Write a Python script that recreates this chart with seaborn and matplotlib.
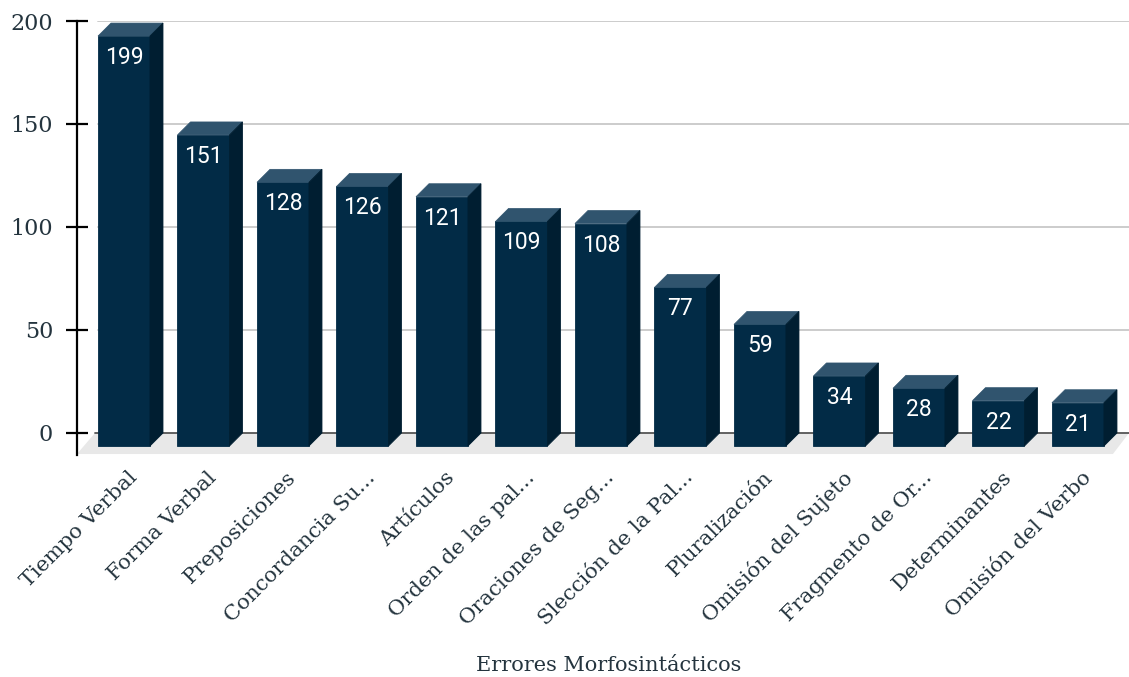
import numpy as np
import pandas as pd
import seaborn as sns
import matplotlib
matplotlib.use("Agg")
import matplotlib.pyplot as plt
from matplotlib.patches import Polygon
from matplotlib.transforms import ScaledTranslation

categories = ["Tiempo Verbal", "Forma Verbal", "Preposiciones", "Concordancia Su...",
              "Artículos", "Orden de las pal...", "Oraciones de Seg...", "Slección de la Pal...",
              "Pluralización", "Omisión del Sujeto", "Fragmento de Or...", "Determinantes",
              "Omisión del Verbo"]
values = [199, 151, 128, 126, 121, 109, 108, 77, 59, 34, 28, 22, 21]
yticks = [0, 50, 100, 150, 200]
xlabel = "Errores Morfosintácticos"

FRONT = "#022b46"
TOP = "#30546e"
SIDE = "#001e31"
TEXT = "#24343e"

sns.set_theme(style="white")
plt.rcParams["font.family"] = ["DejaVu Serif"]

W, H = 1129, 677
fig = plt.figure(figsize=(W / 100, H / 100), dpi=100)
ax = fig.add_axes([77 / W, 1 - 455 / H, (1129 - 77) / W, (455 - 21) / H])

df = pd.DataFrame({"cat": categories, "val": values})
bw = 0.654
sns.barplot(data=df, x="cat", y="val", color=FRONT, width=bw, saturation=1,
            ax=ax, zorder=3)

ax.set_xlim(-0.591, 12.642)
ax.set_ylim(-10.68, 200)

# depth in data units (13 px)
px_x = 79.5
px_y = 2.06
dx = 13 / px_x
dy = 13 / px_y

# floor
floor = Polygon([(-0.365, 0), (12.642, 0), (12.44, -10.2), (-0.591, -10.2)],
                closed=True, facecolor="#e8e8e8", edgecolor="none", zorder=1, clip_on=False)
ax.add_patch(floor)

# grid lines
for t in yticks[1:]:
    ax.axhline(t, xmin=0.02, xmax=1, color="#cccccc", lw=1.4, zorder=0.5)
ax.axhline(0, xmin=0.017, xmax=1, color="#555555", lw=1.3, zorder=1.5)

# bars: shift front faces, add top and side
for i, (p, v) in enumerate(zip(ax.patches, values)):
    p.set_y(-dy)
    p.set_edgecolor(FRONT)
    p.set_linewidth(0.6)
    x0 = p.get_x()
    x1 = x0 + p.get_width()
    h = p.get_height()
    top = Polygon([(x0, h - dy), (x1, h - dy), (x1 + dx, h), (x0 + dx, h)],
                  closed=True, facecolor=TOP, edgecolor=TOP, lw=0.5, zorder=3, clip_on=False)
    side = Polygon([(x1, -dy), (x1 + dx, 0), (x1 + dx, h), (x1, h - dy)],
                   closed=True, facecolor=SIDE, edgecolor=SIDE, lw=0.6, zorder=3.1, clip_on=False)
    ax.add_patch(top)
    ax.add_patch(side)
    p.set_clip_on(False)
    ax.annotate(str(v), (x0 + p.get_width() / 2, h - dy), xytext=(0, -15.5),
                textcoords="offset points", ha="center", va="center",
                color="white", fontsize=16.5, family="Roboto", zorder=5)

# axes styling
for s in ["top", "right", "bottom"]:
    ax.spines[s].set_visible(False)
ax.spines["left"].set_color("black")
ax.spines["left"].set_linewidth(1.6)
ax.set_yticks(yticks)
ax.set_yticklabels([str(t) for t in yticks])
ax.tick_params(axis="y", direction="inout", length=16.5, width=1.6, color="black",
               labelsize=16, labelcolor=TEXT, pad=9, left=True)
ax.tick_params(axis="x", length=0, labelsize=15.3, labelcolor=TEXT, pad=14)
ax.set_ylabel("")
ax.set_xlabel(xlabel, fontsize=15, color=TEXT)
ax.xaxis.set_label_coords(0.505, -0.463)

off = ScaledTranslation(0.10, 0, fig.dpi_scale_trans)
for lab in ax.get_xticklabels():
    lab.set_rotation(45)
    lab.set_ha("right")
    lab.set_va("center")
    lab.set_rotation_mode("anchor")
    lab.set_transform(lab.get_transform() + off)

fig.savefig("out.png", dpi=100)
